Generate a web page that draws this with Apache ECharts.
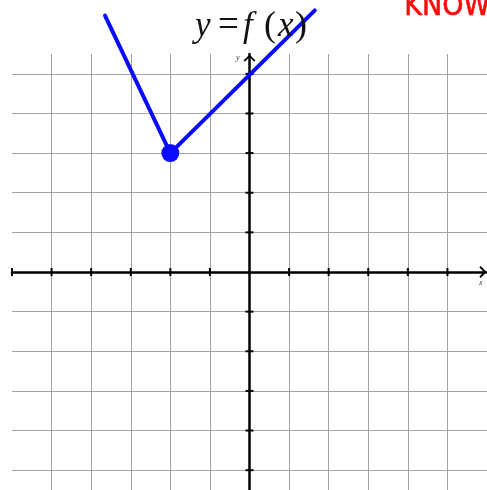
<!DOCTYPE html>
<html>
<head>
<meta charset="utf-8">
<script src="https://cdn.jsdelivr.net/npm/echarts@6/dist/echarts.min.js"></script>
<style>
  html, body { margin: 0; padding: 0; background: #fff; }
  #chart { width: 487px; height: 490px; }
</style>
</head>
<body>
<div id="chart"></div>
<script>
// Piecewise-linear function y = f(x): left branch, vertex, right branch
var curveX = [-3.65, -2, 1.65];
var curveY = [6.47, 3, 6.6];
// Closed dot at the vertex
var vertexX = [-2];
var vertexY = [3];
// Grid and tick positions (units)
var xGridVals = [-5, -4, -3, -2, -1, 0, 1, 2, 3, 4, 5];
var yGridVals = [-5, -4, -3, -2, -1, 0, 1, 2, 3, 4, 5];
var xTickVals = [-6, -5, -4, -3, -2, -1, 1, 2, 3, 4, 5];
var yTickVals = [-5, -4, -3, -2, -1, 1, 2, 3, 4, 5];

var chevron = 'path://M0,10 L10,0 L20,10 L17.5,12 L10,4.5 L2.5,12 Z';

var curveData = curveX.map(function (x, i) { return [x, curveY[i]]; });
var vertexData = vertexX.map(function (x, i) { return [x, vertexY[i]]; });
var xTickData = xTickVals.map(function (x) { return [x, 0]; });
var yTickData = yTickVals.map(function (y) { return [0, y]; });

var gridLine = { show: true, lineStyle: { color: '#a3a3a3', width: 1 } };
var axisLine = { show: true, onZero: true,
  lineStyle: { color: '#000', width: 2.5 },
  symbol: ['none', chevron], symbolSize: [12, 8], symbolOffset: [0, -4] };

var serif = 'Liberation Serif';
function tok(size, italic, w) {
  return { fontFamily: serif, fontStyle: italic ? 'italic' : 'normal', fontWeight: 'normal',
    fontSize: size, color: '#111', width: w, align: 'left' };
}
var chart = echarts.init(document.getElementById('chart'), null, { renderer: 'canvas' });
chart.setOption({
  animation: false,
  backgroundColor: '#fff',
  grid: { left: 12, right: 0, top: 54, bottom: 0, containLabel: false },
  xAxis: {
    type: 'value', min: -6, max: 6, interval: 1,
    axisLine: axisLine,
    axisTick: { show: false, customValues: xGridVals },
    axisLabel: { show: false, customValues: xGridVals },
    splitLine: gridLine
  },
  yAxis: {
    type: 'value', min: -5.5, max: 5.5,
    axisLine: axisLine,
    axisTick: { show: false, customValues: yGridVals },
    axisLabel: { show: false, customValues: yGridVals },
    splitLine: gridLine
  },
  title: {
    left: 190, top: 3,
    text: '{a|y}{b|=}{c|f}{d|(}{e|x}{g|)}',
    textStyle: {
      fontWeight: 'normal',
      rich: {
        a: tok(35, true, 23),
        b: tok(37, false, 25),
        c: tok(35, true, 21),
        d: tok(36, false, 14),
        e: tok(35, true, 17),
        g: tok(36, false, 12)
      }
    }
  },
  graphic: [
    { type: 'text', left: 236, top: 54, z: 10,
      style: { text: 'y', font: 'italic 8px "Liberation Serif"', fill: '#333' } },
    { type: 'text', left: 479, top: 279, z: 10,
      style: { text: 'x', font: 'italic 8px "Liberation Serif"', fill: '#333' } },
    { type: 'text', left: 404, top: -8, z: 10,
      style: { text: 'KNOW', font: '30px "DejaVu Sans Condensed"', fill: '#ff0a0a',
        stroke: '#ff0a0a', lineWidth: 0.6 } }
  ],
  series: [
    {
      type: 'scatter', data: xTickData, symbol: 'rect', symbolSize: [2, 8],
      itemStyle: { color: '#000', opacity: 1 }, silent: true, z: 3
    },
    {
      type: 'scatter', data: yTickData, symbol: 'rect', symbolSize: [8, 2],
      itemStyle: { color: '#000', opacity: 1 }, silent: true, z: 3
    },
    {
      type: 'line', data: curveData, clip: false, showSymbol: false, z: 5,
      lineStyle: { color: '#0a0aff', width: 4, cap: 'round' }
    },
    {
      type: 'scatter', data: vertexData, symbol: 'circle', symbolSize: 18, z: 6,
      itemStyle: { color: '#0a0aff', opacity: 1 }
    }
  ]
});
</script>
</body>
</html>
